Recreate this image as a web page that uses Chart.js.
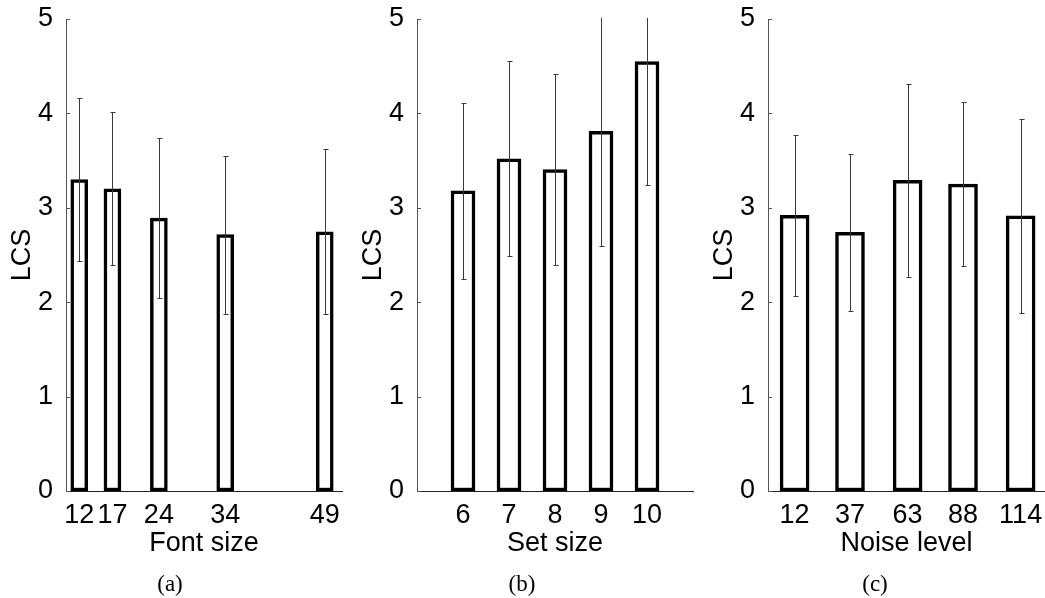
<!DOCTYPE html>
<html>
<head>
<meta charset="utf-8">
<script src="https://cdn.jsdelivr.net/npm/chart.js@4.4.1/dist/chart.umd.min.js"></script>
<style>
    html, body { margin: 0; padding: 0; background: #fff; overflow: hidden; }
    body { width: 1045px; height: 598px; position: relative; }
    canvas { position: absolute; top: 0; }
    .caption {
        position: absolute; top: 571px; width: 100px; text-align: center;
        font-family: 'Liberation Serif', 'DejaVu Serif', serif; font-size: 23px; line-height: 26px; color: #000;
    }
</style>
</head>
<body>
<canvas id="chartA" width="348" height="598" style="left:0px"></canvas>
<canvas id="chartB" width="348" height="598" style="left:350px"></canvas>
<canvas id="chartC" width="345" height="598" style="left:700px"></canvas>
<div class="caption" style="left:120px">(a)</div>
<div class="caption" style="left:472px">(b)</div>
<div class="caption" style="left:825px">(c)</div>

<script>
// (a) font size
const fontSizes = [12, 17, 24, 34, 49];
const lcsFont = [3.30, 3.20, 2.89, 2.715, 2.745];
const errFont = [0.86, 0.81, 0.85, 0.835, 0.875];

// (b) set size
const setSizes = [6, 7, 8, 9, 10];
const lcsSet = [3.18, 3.52, 3.405, 3.81, 4.55];
const errSet = [0.935, 1.03, 1.015, 1.21, 1.31];

// (c) noise level
const noiseLevels = [12, 37, 63, 88, 114];
const lcsNoise = [2.92, 2.74, 3.29, 3.25, 2.915];
const errNoise = [0.85, 0.83, 1.02, 0.87, 1.025];

const fontFamily = "'Liberation Sans', Arial, Helvetica, sans-serif";

// error bars + inward y ticks (matlab style)
const errorBarPlugin = {
    id: 'errorBars',
    afterDatasetsDraw(chart) {
        const ctx = chart.ctx;
        const xScale = chart.scales.x;
        const yScale = chart.scales.y;
        const area = chart.chartArea;

        ctx.save();
        ctx.beginPath();
        ctx.rect(area.left, area.top - 1, area.right - area.left, area.bottom - area.top + 2);
        ctx.clip();
        ctx.strokeStyle = '#3a3a3a';
        ctx.lineWidth = 1;
        chart.data.datasets.forEach(ds => {
            ds.data.forEach((pt, i) => {
                let x = Math.round(xScale.getPixelForValue(pt.x)) + 0.5;
                let yTop = Math.round(yScale.getPixelForValue(pt.y + ds.errors[i])) + 0.5;
                let yBot = Math.round(yScale.getPixelForValue(pt.y - ds.errors[i])) + 0.5;
                ctx.beginPath();
                ctx.moveTo(x, yTop);
                ctx.lineTo(x, yBot);
                ctx.moveTo(x - 2, yTop);
                ctx.lineTo(x + 3, yTop);
                ctx.moveTo(x - 2, yBot);
                ctx.lineTo(x + 3, yBot);
                ctx.stroke();
            });
        });
        ctx.restore();

        ctx.save();
        ctx.strokeStyle = '#555';
        ctx.lineWidth = 1;
        yScale.ticks.forEach(t => {
            let y = Math.round(yScale.getPixelForValue(t.value)) + 0.5;
            ctx.beginPath();
            ctx.moveTo(area.left, y);
            ctx.lineTo(area.left + 4, y);
            ctx.stroke();
        });
        ctx.restore();
    }
};

function makePanel(canvasId, xs, means, errs, opts) {
    let ctx = document.getElementById(canvasId).getContext('2d');
    let points = xs.map((v, i) => ({ x: v, y: means[i] }));

    return new Chart(ctx, {
        type: 'bar',
        data: {
            datasets: [{
                data: points,
                errors: errs,
                backgroundColor: '#ffffff',
                borderColor: '#000000',
                borderWidth: 3.5,
                borderSkipped: false,
                barThickness: opts.barThickness
            }]
        },
        options: {
            responsive: false,
            animation: false,
            devicePixelRatio: 1,
            layout: {
                padding: { top: 19, right: opts.padRight, bottom: 38, left: 0 }
            },
            plugins: {
                legend: { display: false },
                tooltip: { enabled: false }
            },
            scales: {
                x: {
                    type: 'linear',
                    min: opts.xMin,
                    max: opts.xMax,
                    offset: false,
                    grid: { display: false },
                    border: { display: true, color: '#222', width: 1 },
                    ticks: {
                        autoSkip: false,
                        maxRotation: 0,
                        minRotation: 0,
                        padding: 0,
                        color: '#000',
                        font: { family: fontFamily, size: 27 },
                        callback: v => String(v)
                    },
                    afterBuildTicks: scale => {
                        scale.ticks = xs.map(v => ({ value: v }));
                    },
                    afterFit: scale => {
                        scale.height = 69;
                        scale.paddingLeft = 0;
                        scale.paddingRight = 0;
                    },
                    title: {
                        display: true,
                        text: opts.xTitle,
                        color: '#000',
                        padding: { top: 0, bottom: 0 },
                        font: { family: fontFamily, size: 27, lineHeight: 1.2 }
                    }
                },
                y: {
                    min: 0,
                    max: 5,
                    grid: { display: false },
                    border: { display: true, color: '#555', width: 1 },
                    ticks: {
                        stepSize: 1,
                        padding: 5,
                        color: '#000',
                        font: { family: fontFamily, size: 27 }
                    },
                    afterFit: scale => {
                        scale.width = opts.yWidth;
                        scale.paddingTop = 0;
                        scale.paddingBottom = 0;
                    },
                    title: {
                        display: true,
                        text: 'LCS',
                        color: '#000',
                        padding: { top: opts.yTitlePad, bottom: 0 },
                        font: { family: fontFamily, size: 27, lineHeight: 1.2 }
                    }
                }
            }
        },
        plugins: [errorBarPlugin]
    });
}

makePanel('chartA', fontSizes, lcsFont, errFont, {
    xMin: 10, xMax: 51.6, xTitle: 'Font size', barThickness: 17,
    padRight: 6, yWidth: 66, yTitlePad: 6
});
makePanel('chartB', setSizes, lcsSet, errSet, {
    xMin: 5, xMax: 11, xTitle: 'Set size', barThickness: 24,
    padRight: 5, yWidth: 67, yTitlePad: 7
});
makePanel('chartC', noiseLevels, lcsNoise, errNoise, {
    xMin: 0, xMax: 125, xTitle: 'Noise level', barThickness: 29,
    padRight: 0, yWidth: 68, yTitlePad: 8
});
</script>
</body>
</html>
